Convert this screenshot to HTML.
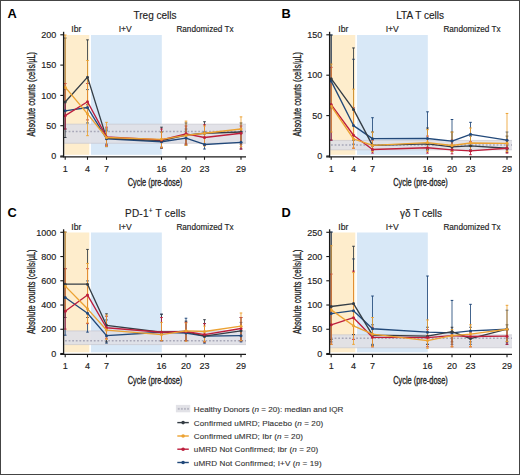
<!DOCTYPE html><html><head><meta charset="utf-8"><style>html,body{margin:0;padding:0;background:#fff;width:520px;height:475px;overflow:hidden}svg{display:block}</style></head><body>
<svg width="520" height="475" viewBox="0 0 520 475" font-family='"Liberation Sans", sans-serif'>
<style>.t{stroke:#222;stroke-width:0.15px}.tl{stroke:#333;stroke-width:0.12px}.ax{stroke:#222;stroke-width:0.32px}</style>
<rect x="0" y="0" width="520" height="475" fill="#fff"/>
<g><rect x="64.3" y="35" width="25" height="119.8" fill="#feedcc"/><rect x="91" y="35" width="70.8" height="119.8" fill="#d8e8f7"/><rect x="64.3" y="124.16" width="181.7" height="19.1" fill="#dfdfe6" fill-opacity="0.92"/><line x1="64.3" x2="246" y1="143.26" y2="143.26" stroke="#c4c4cc" stroke-width="0.8" stroke-opacity="0.8"/><line x1="64.3" x2="246" y1="124.16" y2="124.16" stroke="#c4c4cc" stroke-width="0.8" stroke-opacity="0.8"/><line x1="65" x2="246" y1="131.43" y2="131.43" stroke="#a8a8b8" stroke-width="1.4" stroke-dasharray="1.8 1.8"/><line x1="65.2" x2="65.2" y1="129.01" y2="89.59" stroke="#22497a" stroke-width="0.85"/><line x1="63.9" x2="66.5" y1="129.01" y2="129.01" stroke="#22497a" stroke-width="1"/><line x1="63.9" x2="66.5" y1="89.59" y2="89.59" stroke="#22497a" stroke-width="1"/><line x1="87.5" x2="87.5" y1="122.94" y2="89.59" stroke="#22497a" stroke-width="0.85"/><line x1="86.2" x2="88.8" y1="122.94" y2="122.94" stroke="#22497a" stroke-width="1"/><line x1="86.2" x2="88.8" y1="89.59" y2="89.59" stroke="#22497a" stroke-width="1"/><line x1="106.5" x2="106.5" y1="146.6" y2="130.83" stroke="#22497a" stroke-width="0.85"/><line x1="105.2" x2="107.8" y1="146.6" y2="146.6" stroke="#22497a" stroke-width="1"/><line x1="105.2" x2="107.8" y1="130.83" y2="130.83" stroke="#22497a" stroke-width="1"/><line x1="161.5" x2="161.5" y1="148.42" y2="132.04" stroke="#22497a" stroke-width="0.85"/><line x1="160.2" x2="162.8" y1="148.42" y2="148.42" stroke="#22497a" stroke-width="1"/><line x1="160.2" x2="162.8" y1="132.04" y2="132.04" stroke="#22497a" stroke-width="1"/><line x1="186" x2="186" y1="145.38" y2="129.01" stroke="#22497a" stroke-width="0.85"/><line x1="184.7" x2="187.3" y1="145.38" y2="145.38" stroke="#22497a" stroke-width="1"/><line x1="184.7" x2="187.3" y1="129.01" y2="129.01" stroke="#22497a" stroke-width="1"/><line x1="204.5" x2="204.5" y1="149.02" y2="132.04" stroke="#22497a" stroke-width="0.85"/><line x1="203.2" x2="205.8" y1="149.02" y2="149.02" stroke="#22497a" stroke-width="1"/><line x1="203.2" x2="205.8" y1="132.04" y2="132.04" stroke="#22497a" stroke-width="1"/><line x1="241" x2="241" y1="149.02" y2="132.04" stroke="#22497a" stroke-width="0.85"/><line x1="239.7" x2="242.3" y1="149.02" y2="149.02" stroke="#22497a" stroke-width="1"/><line x1="239.7" x2="242.3" y1="132.04" y2="132.04" stroke="#22497a" stroke-width="1"/><line x1="65.2" x2="65.2" y1="137.5" y2="38.03" stroke="#353d45" stroke-width="0.85"/><line x1="63.9" x2="66.5" y1="137.5" y2="137.5" stroke="#353d45" stroke-width="1"/><line x1="63.9" x2="66.5" y1="38.03" y2="38.03" stroke="#353d45" stroke-width="1"/><line x1="87.5" x2="87.5" y1="104.75" y2="39.85" stroke="#353d45" stroke-width="0.85"/><line x1="86.2" x2="88.8" y1="104.75" y2="104.75" stroke="#353d45" stroke-width="1"/><line x1="86.2" x2="88.8" y1="39.85" y2="39.85" stroke="#353d45" stroke-width="1"/><line x1="106.5" x2="106.5" y1="144.17" y2="129.01" stroke="#353d45" stroke-width="0.85"/><line x1="105.2" x2="107.8" y1="144.17" y2="144.17" stroke="#353d45" stroke-width="1"/><line x1="105.2" x2="107.8" y1="129.01" y2="129.01" stroke="#353d45" stroke-width="1"/><line x1="161.5" x2="161.5" y1="147.2" y2="127.19" stroke="#353d45" stroke-width="0.85"/><line x1="160.2" x2="162.8" y1="147.2" y2="147.2" stroke="#353d45" stroke-width="1"/><line x1="160.2" x2="162.8" y1="127.19" y2="127.19" stroke="#353d45" stroke-width="1"/><line x1="186" x2="186" y1="144.17" y2="122.94" stroke="#353d45" stroke-width="0.85"/><line x1="184.7" x2="187.3" y1="144.17" y2="144.17" stroke="#353d45" stroke-width="1"/><line x1="184.7" x2="187.3" y1="122.94" y2="122.94" stroke="#353d45" stroke-width="1"/><line x1="204.5" x2="204.5" y1="144.17" y2="121.73" stroke="#353d45" stroke-width="0.85"/><line x1="203.2" x2="205.8" y1="144.17" y2="144.17" stroke="#353d45" stroke-width="1"/><line x1="203.2" x2="205.8" y1="121.73" y2="121.73" stroke="#353d45" stroke-width="1"/><line x1="241" x2="241" y1="144.17" y2="122.94" stroke="#353d45" stroke-width="0.85"/><line x1="239.7" x2="242.3" y1="144.17" y2="144.17" stroke="#353d45" stroke-width="1"/><line x1="239.7" x2="242.3" y1="122.94" y2="122.94" stroke="#353d45" stroke-width="1"/><line x1="65.2" x2="65.2" y1="129.01" y2="83.52" stroke="#bd1e3c" stroke-width="0.85"/><line x1="63.9" x2="66.5" y1="129.01" y2="129.01" stroke="#bd1e3c" stroke-width="1"/><line x1="63.9" x2="66.5" y1="83.52" y2="83.52" stroke="#bd1e3c" stroke-width="1"/><line x1="87.5" x2="87.5" y1="119.91" y2="83.52" stroke="#bd1e3c" stroke-width="0.85"/><line x1="86.2" x2="88.8" y1="119.91" y2="119.91" stroke="#bd1e3c" stroke-width="1"/><line x1="86.2" x2="88.8" y1="83.52" y2="83.52" stroke="#bd1e3c" stroke-width="1"/><line x1="106.5" x2="106.5" y1="145.38" y2="127.19" stroke="#bd1e3c" stroke-width="0.85"/><line x1="105.2" x2="107.8" y1="145.38" y2="145.38" stroke="#bd1e3c" stroke-width="1"/><line x1="105.2" x2="107.8" y1="127.19" y2="127.19" stroke="#bd1e3c" stroke-width="1"/><line x1="161.5" x2="161.5" y1="147.81" y2="129.01" stroke="#bd1e3c" stroke-width="0.85"/><line x1="160.2" x2="162.8" y1="147.81" y2="147.81" stroke="#bd1e3c" stroke-width="1"/><line x1="160.2" x2="162.8" y1="129.01" y2="129.01" stroke="#bd1e3c" stroke-width="1"/><line x1="186" x2="186" y1="144.17" y2="125.98" stroke="#bd1e3c" stroke-width="0.85"/><line x1="184.7" x2="187.3" y1="144.17" y2="144.17" stroke="#bd1e3c" stroke-width="1"/><line x1="184.7" x2="187.3" y1="125.98" y2="125.98" stroke="#bd1e3c" stroke-width="1"/><line x1="204.5" x2="204.5" y1="145.38" y2="124.76" stroke="#bd1e3c" stroke-width="0.85"/><line x1="203.2" x2="205.8" y1="145.38" y2="145.38" stroke="#bd1e3c" stroke-width="1"/><line x1="203.2" x2="205.8" y1="124.76" y2="124.76" stroke="#bd1e3c" stroke-width="1"/><line x1="241" x2="241" y1="149.02" y2="125.98" stroke="#bd1e3c" stroke-width="0.85"/><line x1="239.7" x2="242.3" y1="149.02" y2="149.02" stroke="#bd1e3c" stroke-width="1"/><line x1="239.7" x2="242.3" y1="125.98" y2="125.98" stroke="#bd1e3c" stroke-width="1"/><line x1="65.2" x2="65.2" y1="101.72" y2="35" stroke="#eca232" stroke-width="0.85"/><line x1="63.9" x2="66.5" y1="101.72" y2="101.72" stroke="#eca232" stroke-width="1"/><line x1="63.9" x2="66.5" y1="35" y2="35" stroke="#eca232" stroke-width="1"/><line x1="87.5" x2="87.5" y1="135.68" y2="60.47" stroke="#eca232" stroke-width="0.85"/><line x1="86.2" x2="88.8" y1="135.68" y2="135.68" stroke="#eca232" stroke-width="1"/><line x1="86.2" x2="88.8" y1="60.47" y2="60.47" stroke="#eca232" stroke-width="1"/><line x1="106.5" x2="106.5" y1="146.6" y2="122.34" stroke="#eca232" stroke-width="0.85"/><line x1="105.2" x2="107.8" y1="146.6" y2="146.6" stroke="#eca232" stroke-width="1"/><line x1="105.2" x2="107.8" y1="122.34" y2="122.34" stroke="#eca232" stroke-width="1"/><line x1="161.5" x2="161.5" y1="147.81" y2="132.04" stroke="#eca232" stroke-width="0.85"/><line x1="160.2" x2="162.8" y1="147.81" y2="147.81" stroke="#eca232" stroke-width="1"/><line x1="160.2" x2="162.8" y1="132.04" y2="132.04" stroke="#eca232" stroke-width="1"/><line x1="186" x2="186" y1="145.38" y2="121.12" stroke="#eca232" stroke-width="0.85"/><line x1="184.7" x2="187.3" y1="145.38" y2="145.38" stroke="#eca232" stroke-width="1"/><line x1="184.7" x2="187.3" y1="121.12" y2="121.12" stroke="#eca232" stroke-width="1"/><line x1="204.5" x2="204.5" y1="145.99" y2="125.98" stroke="#eca232" stroke-width="0.85"/><line x1="203.2" x2="205.8" y1="145.99" y2="145.99" stroke="#eca232" stroke-width="1"/><line x1="203.2" x2="205.8" y1="125.98" y2="125.98" stroke="#eca232" stroke-width="1"/><line x1="241" x2="241" y1="146.6" y2="116.88" stroke="#eca232" stroke-width="0.85"/><line x1="239.7" x2="242.3" y1="146.6" y2="146.6" stroke="#eca232" stroke-width="1"/><line x1="239.7" x2="242.3" y1="116.88" y2="116.88" stroke="#eca232" stroke-width="1"/><polyline points="65.2,110.81 87.5,107.48 106.5,138.71 161.5,141.74 186,138.11 204.5,144.47 241,142.35" fill="none" stroke="#22497a" stroke-width="1.35" stroke-linejoin="round"/><circle cx="65.2" cy="110.81" r="1.5" fill="#22497a"/><circle cx="87.5" cy="107.48" r="1.5" fill="#22497a"/><circle cx="106.5" cy="138.71" r="1.5" fill="#22497a"/><circle cx="161.5" cy="141.74" r="1.5" fill="#22497a"/><circle cx="186" cy="138.11" r="1.5" fill="#22497a"/><circle cx="204.5" cy="144.47" r="1.5" fill="#22497a"/><circle cx="241" cy="142.35" r="1.5" fill="#22497a"/><polyline points="65.2,102.02 87.5,77.15 106.5,138.11 161.5,140.53 186,135.07 204.5,133.25 241,132.04" fill="none" stroke="#353d45" stroke-width="1.35" stroke-linejoin="round"/><circle cx="65.2" cy="102.02" r="1.5" fill="#353d45"/><circle cx="87.5" cy="77.15" r="1.5" fill="#353d45"/><circle cx="106.5" cy="138.11" r="1.5" fill="#353d45"/><circle cx="161.5" cy="140.53" r="1.5" fill="#353d45"/><circle cx="186" cy="135.07" r="1.5" fill="#353d45"/><circle cx="204.5" cy="133.25" r="1.5" fill="#353d45"/><circle cx="241" cy="132.04" r="1.5" fill="#353d45"/><polyline points="65.2,115.66 87.5,101.72 106.5,136.89 161.5,139.92 186,133.86 204.5,137.5 241,133.25" fill="none" stroke="#bd1e3c" stroke-width="1.35" stroke-linejoin="round"/><circle cx="65.2" cy="115.66" r="1.5" fill="#bd1e3c"/><circle cx="87.5" cy="101.72" r="1.5" fill="#bd1e3c"/><circle cx="106.5" cy="136.89" r="1.5" fill="#bd1e3c"/><circle cx="161.5" cy="139.92" r="1.5" fill="#bd1e3c"/><circle cx="186" cy="133.86" r="1.5" fill="#bd1e3c"/><circle cx="204.5" cy="137.5" r="1.5" fill="#bd1e3c"/><circle cx="241" cy="133.25" r="1.5" fill="#bd1e3c"/><polyline points="65.2,87.16 87.5,113.85 106.5,137.5 161.5,139.32 186,135.38 204.5,133.25 241,129.01" fill="none" stroke="#eca232" stroke-width="1.35" stroke-linejoin="round"/><circle cx="65.2" cy="87.16" r="1.5" fill="#eca232"/><circle cx="87.5" cy="113.85" r="1.5" fill="#eca232"/><circle cx="106.5" cy="137.5" r="1.5" fill="#eca232"/><circle cx="161.5" cy="139.32" r="1.5" fill="#eca232"/><circle cx="186" cy="135.38" r="1.5" fill="#eca232"/><circle cx="204.5" cy="133.25" r="1.5" fill="#eca232"/><circle cx="241" cy="129.01" r="1.5" fill="#eca232"/><line x1="63.6" x2="63.6" y1="31.8" y2="157.4" stroke="#1a1a1a" stroke-width="1.3"/><line x1="60.2" x2="246" y1="156.8" y2="156.8" stroke="#1a1a1a" stroke-width="1.3"/><line x1="60.3" x2="63.6" y1="156" y2="156" stroke="#1a1a1a" stroke-width="1.1"/><text x="56.2" y="159.2" font-size="9" fill="#222" class="t" text-anchor="end">0</text><line x1="60.3" x2="63.6" y1="125.7" y2="125.7" stroke="#1a1a1a" stroke-width="1.1"/><text x="56.2" y="128.9" font-size="9" fill="#222" class="t" text-anchor="end">50</text><line x1="60.3" x2="63.6" y1="95.4" y2="95.4" stroke="#1a1a1a" stroke-width="1.1"/><text x="56.2" y="98.6" font-size="9" fill="#222" class="t" text-anchor="end">100</text><line x1="60.3" x2="63.6" y1="65.1" y2="65.1" stroke="#1a1a1a" stroke-width="1.1"/><text x="56.2" y="68.3" font-size="9" fill="#222" class="t" text-anchor="end">150</text><line x1="60.3" x2="63.6" y1="34.8" y2="34.8" stroke="#1a1a1a" stroke-width="1.1"/><text x="56.2" y="38" font-size="9" fill="#222" class="t" text-anchor="end">200</text><line x1="65.2" x2="65.2" y1="156.8" y2="159.8" stroke="#1a1a1a" stroke-width="1.1"/><text x="65.2" y="171.7" font-size="9" fill="#222" class="t" text-anchor="middle">1</text><line x1="87.5" x2="87.5" y1="156.8" y2="159.8" stroke="#1a1a1a" stroke-width="1.1"/><text x="87.5" y="171.7" font-size="9" fill="#222" class="t" text-anchor="middle">4</text><line x1="106.5" x2="106.5" y1="156.8" y2="159.8" stroke="#1a1a1a" stroke-width="1.1"/><text x="106.5" y="171.7" font-size="9" fill="#222" class="t" text-anchor="middle">7</text><line x1="161.5" x2="161.5" y1="156.8" y2="159.8" stroke="#1a1a1a" stroke-width="1.1"/><text x="161.5" y="171.7" font-size="9" fill="#222" class="t" text-anchor="middle">16</text><line x1="186" x2="186" y1="156.8" y2="159.8" stroke="#1a1a1a" stroke-width="1.1"/><text x="186" y="171.7" font-size="9" fill="#222" class="t" text-anchor="middle">20</text><line x1="204.5" x2="204.5" y1="156.8" y2="159.8" stroke="#1a1a1a" stroke-width="1.1"/><text x="204.5" y="171.7" font-size="9" fill="#222" class="t" text-anchor="middle">23</text><line x1="241" x2="241" y1="156.8" y2="159.8" stroke="#1a1a1a" stroke-width="1.1"/><text x="241" y="171.7" font-size="9" fill="#222" class="t" text-anchor="middle">29</text><text x="155" y="186.4" font-size="10.2" fill="#222" class="ax" text-anchor="middle" textLength="54.6" lengthAdjust="spacingAndGlyphs">Cycle (pre-dose)</text><text transform="translate(34.8,94.3) rotate(-90)" font-size="10.3" fill="#222" class="ax" text-anchor="middle" textLength="84.6" lengthAdjust="spacingAndGlyphs">Absolute counts (cells/µL)</text><text x="76.3" y="32" font-size="8.6" fill="#222" class="t" text-anchor="middle">Ibr</text><text x="125.3" y="32" font-size="8.6" fill="#222" class="t" text-anchor="middle">I+V</text><text x="205" y="32.1" font-size="8.2" fill="#222" class="t" text-anchor="middle">Randomized Tx</text><text x="155" y="18.8" font-size="10" fill="#222" class="t" text-anchor="middle">Treg cells</text><text x="7.6" y="17.9" font-size="12.8" font-weight="bold" fill="#000">A</text></g>
<g><rect x="330.3" y="35" width="25" height="119.8" fill="#feedcc"/><rect x="357" y="35" width="70.8" height="119.8" fill="#d8e8f7"/><rect x="330.3" y="140.45" width="181.7" height="9.38" fill="#dfdfe6" fill-opacity="0.92"/><line x1="330.3" x2="512" y1="149.83" y2="149.83" stroke="#c4c4cc" stroke-width="0.8" stroke-opacity="0.8"/><line x1="330.3" x2="512" y1="140.45" y2="140.45" stroke="#c4c4cc" stroke-width="0.8" stroke-opacity="0.8"/><line x1="331" x2="512" y1="144.98" y2="144.98" stroke="#a8a8b8" stroke-width="1.4" stroke-dasharray="1.8 1.8"/><line x1="331.2" x2="331.2" y1="140.13" y2="35" stroke="#22497a" stroke-width="0.85"/><line x1="329.9" x2="332.5" y1="140.13" y2="140.13" stroke="#22497a" stroke-width="1"/><line x1="329.9" x2="332.5" y1="35" y2="35" stroke="#22497a" stroke-width="1"/><line x1="353.5" x2="353.5" y1="144.17" y2="59.26" stroke="#22497a" stroke-width="0.85"/><line x1="352.2" x2="354.8" y1="144.17" y2="144.17" stroke="#22497a" stroke-width="1"/><line x1="352.2" x2="354.8" y1="59.26" y2="59.26" stroke="#22497a" stroke-width="1"/><line x1="372.5" x2="372.5" y1="149.83" y2="117.73" stroke="#22497a" stroke-width="0.85"/><line x1="371.2" x2="373.8" y1="149.83" y2="149.83" stroke="#22497a" stroke-width="1"/><line x1="371.2" x2="373.8" y1="117.73" y2="117.73" stroke="#22497a" stroke-width="1"/><line x1="427.5" x2="427.5" y1="149.83" y2="111.82" stroke="#22497a" stroke-width="0.85"/><line x1="426.2" x2="428.8" y1="149.83" y2="149.83" stroke="#22497a" stroke-width="1"/><line x1="426.2" x2="428.8" y1="111.82" y2="111.82" stroke="#22497a" stroke-width="1"/><line x1="452" x2="452" y1="149.83" y2="119.51" stroke="#22497a" stroke-width="0.85"/><line x1="450.7" x2="453.3" y1="149.83" y2="149.83" stroke="#22497a" stroke-width="1"/><line x1="450.7" x2="453.3" y1="119.51" y2="119.51" stroke="#22497a" stroke-width="1"/><line x1="470.5" x2="470.5" y1="149.83" y2="122.34" stroke="#22497a" stroke-width="0.85"/><line x1="469.2" x2="471.8" y1="149.83" y2="149.83" stroke="#22497a" stroke-width="1"/><line x1="469.2" x2="471.8" y1="122.34" y2="122.34" stroke="#22497a" stroke-width="1"/><line x1="507" x2="507" y1="149.83" y2="132.04" stroke="#22497a" stroke-width="0.85"/><line x1="505.7" x2="508.3" y1="149.83" y2="149.83" stroke="#22497a" stroke-width="1"/><line x1="505.7" x2="508.3" y1="132.04" y2="132.04" stroke="#22497a" stroke-width="1"/><line x1="331.2" x2="331.2" y1="107.78" y2="35" stroke="#353d45" stroke-width="0.85"/><line x1="329.9" x2="332.5" y1="107.78" y2="107.78" stroke="#353d45" stroke-width="1"/><line x1="329.9" x2="332.5" y1="35" y2="35" stroke="#353d45" stroke-width="1"/><line x1="353.5" x2="353.5" y1="140.13" y2="47.94" stroke="#353d45" stroke-width="0.85"/><line x1="352.2" x2="354.8" y1="140.13" y2="140.13" stroke="#353d45" stroke-width="1"/><line x1="352.2" x2="354.8" y1="47.94" y2="47.94" stroke="#353d45" stroke-width="1"/><line x1="372.5" x2="372.5" y1="149.83" y2="132.04" stroke="#353d45" stroke-width="0.85"/><line x1="371.2" x2="373.8" y1="149.83" y2="149.83" stroke="#353d45" stroke-width="1"/><line x1="371.2" x2="373.8" y1="132.04" y2="132.04" stroke="#353d45" stroke-width="1"/><line x1="427.5" x2="427.5" y1="149.83" y2="128" stroke="#353d45" stroke-width="0.85"/><line x1="426.2" x2="428.8" y1="149.83" y2="149.83" stroke="#353d45" stroke-width="1"/><line x1="426.2" x2="428.8" y1="128" y2="128" stroke="#353d45" stroke-width="1"/><line x1="452" x2="452" y1="151.45" y2="132.04" stroke="#353d45" stroke-width="0.85"/><line x1="450.7" x2="453.3" y1="151.45" y2="151.45" stroke="#353d45" stroke-width="1"/><line x1="450.7" x2="453.3" y1="132.04" y2="132.04" stroke="#353d45" stroke-width="1"/><line x1="470.5" x2="470.5" y1="151.45" y2="136.08" stroke="#353d45" stroke-width="0.85"/><line x1="469.2" x2="471.8" y1="151.45" y2="151.45" stroke="#353d45" stroke-width="1"/><line x1="469.2" x2="471.8" y1="136.08" y2="136.08" stroke="#353d45" stroke-width="1"/><line x1="507" x2="507" y1="152.26" y2="136.08" stroke="#353d45" stroke-width="0.85"/><line x1="505.7" x2="508.3" y1="152.26" y2="152.26" stroke="#353d45" stroke-width="1"/><line x1="505.7" x2="508.3" y1="136.08" y2="136.08" stroke="#353d45" stroke-width="1"/><line x1="331.2" x2="331.2" y1="140.13" y2="67.35" stroke="#bd1e3c" stroke-width="0.85"/><line x1="329.9" x2="332.5" y1="140.13" y2="140.13" stroke="#bd1e3c" stroke-width="1"/><line x1="329.9" x2="332.5" y1="67.35" y2="67.35" stroke="#bd1e3c" stroke-width="1"/><line x1="353.5" x2="353.5" y1="148.21" y2="107.78" stroke="#bd1e3c" stroke-width="0.85"/><line x1="352.2" x2="354.8" y1="148.21" y2="148.21" stroke="#bd1e3c" stroke-width="1"/><line x1="352.2" x2="354.8" y1="107.78" y2="107.78" stroke="#bd1e3c" stroke-width="1"/><line x1="372.5" x2="372.5" y1="153.07" y2="140.13" stroke="#bd1e3c" stroke-width="0.85"/><line x1="371.2" x2="373.8" y1="153.07" y2="153.07" stroke="#bd1e3c" stroke-width="1"/><line x1="371.2" x2="373.8" y1="140.13" y2="140.13" stroke="#bd1e3c" stroke-width="1"/><line x1="427.5" x2="427.5" y1="153.07" y2="136.08" stroke="#bd1e3c" stroke-width="0.85"/><line x1="426.2" x2="428.8" y1="153.07" y2="153.07" stroke="#bd1e3c" stroke-width="1"/><line x1="426.2" x2="428.8" y1="136.08" y2="136.08" stroke="#bd1e3c" stroke-width="1"/><line x1="452" x2="452" y1="153.87" y2="140.13" stroke="#bd1e3c" stroke-width="0.85"/><line x1="450.7" x2="453.3" y1="153.87" y2="153.87" stroke="#bd1e3c" stroke-width="1"/><line x1="450.7" x2="453.3" y1="140.13" y2="140.13" stroke="#bd1e3c" stroke-width="1"/><line x1="470.5" x2="470.5" y1="154.68" y2="141.74" stroke="#bd1e3c" stroke-width="0.85"/><line x1="469.2" x2="471.8" y1="154.68" y2="154.68" stroke="#bd1e3c" stroke-width="1"/><line x1="469.2" x2="471.8" y1="141.74" y2="141.74" stroke="#bd1e3c" stroke-width="1"/><line x1="507" x2="507" y1="153.07" y2="140.13" stroke="#bd1e3c" stroke-width="0.85"/><line x1="505.7" x2="508.3" y1="153.07" y2="153.07" stroke="#bd1e3c" stroke-width="1"/><line x1="505.7" x2="508.3" y1="140.13" y2="140.13" stroke="#bd1e3c" stroke-width="1"/><line x1="331.2" x2="331.2" y1="132.04" y2="64.11" stroke="#eca232" stroke-width="0.85"/><line x1="329.9" x2="332.5" y1="132.04" y2="132.04" stroke="#eca232" stroke-width="1"/><line x1="329.9" x2="332.5" y1="64.11" y2="64.11" stroke="#eca232" stroke-width="1"/><line x1="353.5" x2="353.5" y1="148.21" y2="89.18" stroke="#eca232" stroke-width="0.85"/><line x1="352.2" x2="354.8" y1="148.21" y2="148.21" stroke="#eca232" stroke-width="1"/><line x1="352.2" x2="354.8" y1="89.18" y2="89.18" stroke="#eca232" stroke-width="1"/><line x1="372.5" x2="372.5" y1="151.45" y2="132.04" stroke="#eca232" stroke-width="0.85"/><line x1="371.2" x2="373.8" y1="151.45" y2="151.45" stroke="#eca232" stroke-width="1"/><line x1="371.2" x2="373.8" y1="132.04" y2="132.04" stroke="#eca232" stroke-width="1"/><line x1="427.5" x2="427.5" y1="151.45" y2="129.61" stroke="#eca232" stroke-width="0.85"/><line x1="426.2" x2="428.8" y1="151.45" y2="151.45" stroke="#eca232" stroke-width="1"/><line x1="426.2" x2="428.8" y1="129.61" y2="129.61" stroke="#eca232" stroke-width="1"/><line x1="452" x2="452" y1="151.45" y2="132.04" stroke="#eca232" stroke-width="0.85"/><line x1="450.7" x2="453.3" y1="151.45" y2="151.45" stroke="#eca232" stroke-width="1"/><line x1="450.7" x2="453.3" y1="132.04" y2="132.04" stroke="#eca232" stroke-width="1"/><line x1="470.5" x2="470.5" y1="151.45" y2="128" stroke="#eca232" stroke-width="0.85"/><line x1="469.2" x2="471.8" y1="151.45" y2="151.45" stroke="#eca232" stroke-width="1"/><line x1="469.2" x2="471.8" y1="128" y2="128" stroke="#eca232" stroke-width="1"/><line x1="507" x2="507" y1="151.45" y2="113.44" stroke="#eca232" stroke-width="0.85"/><line x1="505.7" x2="508.3" y1="151.45" y2="151.45" stroke="#eca232" stroke-width="1"/><line x1="505.7" x2="508.3" y1="113.44" y2="113.44" stroke="#eca232" stroke-width="1"/><polyline points="331.2,81.09 353.5,125.57 372.5,138.67 427.5,138.51 452,141.1 470.5,134.3 507,140.13" fill="none" stroke="#22497a" stroke-width="1.35" stroke-linejoin="round"/><circle cx="331.2" cy="81.09" r="1.5" fill="#22497a"/><circle cx="353.5" cy="125.57" r="1.5" fill="#22497a"/><circle cx="372.5" cy="138.67" r="1.5" fill="#22497a"/><circle cx="427.5" cy="138.51" r="1.5" fill="#22497a"/><circle cx="452" cy="141.1" r="1.5" fill="#22497a"/><circle cx="470.5" cy="134.3" r="1.5" fill="#22497a"/><circle cx="507" cy="140.13" r="1.5" fill="#22497a"/><polyline points="331.2,78.67 353.5,109.4 372.5,145.38 427.5,143.85 452,146.92 470.5,145.87 507,148.21" fill="none" stroke="#353d45" stroke-width="1.35" stroke-linejoin="round"/><circle cx="331.2" cy="78.67" r="1.5" fill="#353d45"/><circle cx="353.5" cy="109.4" r="1.5" fill="#353d45"/><circle cx="372.5" cy="145.38" r="1.5" fill="#353d45"/><circle cx="427.5" cy="143.85" r="1.5" fill="#353d45"/><circle cx="452" cy="146.92" r="1.5" fill="#353d45"/><circle cx="470.5" cy="145.87" r="1.5" fill="#353d45"/><circle cx="507" cy="148.21" r="1.5" fill="#353d45"/><polyline points="331.2,104.55 353.5,135.27 372.5,149.51 427.5,147.73 452,149.83 470.5,150.8 507,148.21" fill="none" stroke="#bd1e3c" stroke-width="1.35" stroke-linejoin="round"/><circle cx="331.2" cy="104.55" r="1.5" fill="#bd1e3c"/><circle cx="353.5" cy="135.27" r="1.5" fill="#bd1e3c"/><circle cx="372.5" cy="149.51" r="1.5" fill="#bd1e3c"/><circle cx="427.5" cy="147.73" r="1.5" fill="#bd1e3c"/><circle cx="452" cy="149.83" r="1.5" fill="#bd1e3c"/><circle cx="470.5" cy="150.8" r="1.5" fill="#bd1e3c"/><circle cx="507" cy="148.21" r="1.5" fill="#bd1e3c"/><polyline points="331.2,106.16 353.5,138.91 372.5,145.38 427.5,142.55 452,145.46 470.5,142.96 507,143.36" fill="none" stroke="#eca232" stroke-width="1.35" stroke-linejoin="round"/><circle cx="331.2" cy="106.16" r="1.5" fill="#eca232"/><circle cx="353.5" cy="138.91" r="1.5" fill="#eca232"/><circle cx="372.5" cy="145.38" r="1.5" fill="#eca232"/><circle cx="427.5" cy="142.55" r="1.5" fill="#eca232"/><circle cx="452" cy="145.46" r="1.5" fill="#eca232"/><circle cx="470.5" cy="142.96" r="1.5" fill="#eca232"/><circle cx="507" cy="143.36" r="1.5" fill="#eca232"/><line x1="329.6" x2="329.6" y1="31.8" y2="157.4" stroke="#1a1a1a" stroke-width="1.3"/><line x1="326.2" x2="512" y1="156.8" y2="156.8" stroke="#1a1a1a" stroke-width="1.3"/><line x1="326.3" x2="329.6" y1="156" y2="156" stroke="#1a1a1a" stroke-width="1.1"/><text x="322.2" y="159.2" font-size="9" fill="#222" class="t" text-anchor="end">0</text><line x1="326.3" x2="329.6" y1="115.6" y2="115.6" stroke="#1a1a1a" stroke-width="1.1"/><text x="322.2" y="118.8" font-size="9" fill="#222" class="t" text-anchor="end">50</text><line x1="326.3" x2="329.6" y1="75.2" y2="75.2" stroke="#1a1a1a" stroke-width="1.1"/><text x="322.2" y="78.4" font-size="9" fill="#222" class="t" text-anchor="end">100</text><line x1="326.3" x2="329.6" y1="34.8" y2="34.8" stroke="#1a1a1a" stroke-width="1.1"/><text x="322.2" y="38" font-size="9" fill="#222" class="t" text-anchor="end">150</text><line x1="331.2" x2="331.2" y1="156.8" y2="159.8" stroke="#1a1a1a" stroke-width="1.1"/><text x="331.2" y="171.7" font-size="9" fill="#222" class="t" text-anchor="middle">1</text><line x1="353.5" x2="353.5" y1="156.8" y2="159.8" stroke="#1a1a1a" stroke-width="1.1"/><text x="353.5" y="171.7" font-size="9" fill="#222" class="t" text-anchor="middle">4</text><line x1="372.5" x2="372.5" y1="156.8" y2="159.8" stroke="#1a1a1a" stroke-width="1.1"/><text x="372.5" y="171.7" font-size="9" fill="#222" class="t" text-anchor="middle">7</text><line x1="427.5" x2="427.5" y1="156.8" y2="159.8" stroke="#1a1a1a" stroke-width="1.1"/><text x="427.5" y="171.7" font-size="9" fill="#222" class="t" text-anchor="middle">16</text><line x1="452" x2="452" y1="156.8" y2="159.8" stroke="#1a1a1a" stroke-width="1.1"/><text x="452" y="171.7" font-size="9" fill="#222" class="t" text-anchor="middle">20</text><line x1="470.5" x2="470.5" y1="156.8" y2="159.8" stroke="#1a1a1a" stroke-width="1.1"/><text x="470.5" y="171.7" font-size="9" fill="#222" class="t" text-anchor="middle">23</text><line x1="507" x2="507" y1="156.8" y2="159.8" stroke="#1a1a1a" stroke-width="1.1"/><text x="507" y="171.7" font-size="9" fill="#222" class="t" text-anchor="middle">29</text><text x="420.5" y="186.4" font-size="10.2" fill="#222" class="ax" text-anchor="middle" textLength="54.6" lengthAdjust="spacingAndGlyphs">Cycle (pre-dose)</text><text transform="translate(300.8,94.3) rotate(-90)" font-size="10.3" fill="#222" class="ax" text-anchor="middle" textLength="84.6" lengthAdjust="spacingAndGlyphs">Absolute counts (cells/µL)</text><text x="343.3" y="32" font-size="8.6" fill="#222" class="t" text-anchor="middle">Ibr</text><text x="392.3" y="32" font-size="8.6" fill="#222" class="t" text-anchor="middle">I+V</text><text x="472" y="32.1" font-size="8.2" fill="#222" class="t" text-anchor="middle">Randomized Tx</text><text x="420.1" y="18.8" font-size="10" fill="#222" class="t" text-anchor="middle">LTA T cells</text><text x="281.6" y="17.9" font-size="12.8" font-weight="bold" fill="#000">B</text></g>
<g><rect x="64.3" y="232.5" width="25" height="119.8" fill="#feedcc"/><rect x="91" y="232.5" width="70.8" height="119.8" fill="#d8e8f7"/><rect x="64.3" y="330.92" width="181.7" height="13.66" fill="#dfdfe6" fill-opacity="0.92"/><line x1="64.3" x2="246" y1="344.58" y2="344.58" stroke="#c4c4cc" stroke-width="0.8" stroke-opacity="0.8"/><line x1="64.3" x2="246" y1="330.92" y2="330.92" stroke="#c4c4cc" stroke-width="0.8" stroke-opacity="0.8"/><line x1="65" x2="246" y1="340.8" y2="340.8" stroke="#a8a8b8" stroke-width="1.4" stroke-dasharray="1.8 1.8"/><line x1="65.2" x2="65.2" y1="335.19" y2="268.7" stroke="#22497a" stroke-width="0.85"/><line x1="63.9" x2="66.5" y1="335.19" y2="335.19" stroke="#22497a" stroke-width="1"/><line x1="63.9" x2="66.5" y1="268.7" y2="268.7" stroke="#22497a" stroke-width="1"/><line x1="87.5" x2="87.5" y1="332.14" y2="280.9" stroke="#22497a" stroke-width="0.85"/><line x1="86.2" x2="88.8" y1="332.14" y2="332.14" stroke="#22497a" stroke-width="1"/><line x1="86.2" x2="88.8" y1="280.9" y2="280.9" stroke="#22497a" stroke-width="1"/><line x1="106.5" x2="106.5" y1="343.12" y2="319.94" stroke="#22497a" stroke-width="0.85"/><line x1="105.2" x2="107.8" y1="343.12" y2="343.12" stroke="#22497a" stroke-width="1"/><line x1="105.2" x2="107.8" y1="319.94" y2="319.94" stroke="#22497a" stroke-width="1"/><line x1="161.5" x2="161.5" y1="340.68" y2="314.21" stroke="#22497a" stroke-width="0.85"/><line x1="160.2" x2="162.8" y1="340.68" y2="340.68" stroke="#22497a" stroke-width="1"/><line x1="160.2" x2="162.8" y1="314.21" y2="314.21" stroke="#22497a" stroke-width="1"/><line x1="186" x2="186" y1="340.68" y2="318.23" stroke="#22497a" stroke-width="0.85"/><line x1="184.7" x2="187.3" y1="340.68" y2="340.68" stroke="#22497a" stroke-width="1"/><line x1="184.7" x2="187.3" y1="318.23" y2="318.23" stroke="#22497a" stroke-width="1"/><line x1="204.5" x2="204.5" y1="343.12" y2="323.6" stroke="#22497a" stroke-width="0.85"/><line x1="203.2" x2="205.8" y1="343.12" y2="343.12" stroke="#22497a" stroke-width="1"/><line x1="203.2" x2="205.8" y1="323.6" y2="323.6" stroke="#22497a" stroke-width="1"/><line x1="241" x2="241" y1="341.9" y2="322.38" stroke="#22497a" stroke-width="0.85"/><line x1="239.7" x2="242.3" y1="341.9" y2="341.9" stroke="#22497a" stroke-width="1"/><line x1="239.7" x2="242.3" y1="322.38" y2="322.38" stroke="#22497a" stroke-width="1"/><line x1="65.2" x2="65.2" y1="317.5" y2="232.1" stroke="#353d45" stroke-width="0.85"/><line x1="63.9" x2="66.5" y1="317.5" y2="317.5" stroke="#353d45" stroke-width="1"/><line x1="63.9" x2="66.5" y1="232.1" y2="232.1" stroke="#353d45" stroke-width="1"/><line x1="87.5" x2="87.5" y1="317.5" y2="249.42" stroke="#353d45" stroke-width="0.85"/><line x1="86.2" x2="88.8" y1="317.5" y2="317.5" stroke="#353d45" stroke-width="1"/><line x1="86.2" x2="88.8" y1="249.42" y2="249.42" stroke="#353d45" stroke-width="1"/><line x1="106.5" x2="106.5" y1="341.9" y2="313.84" stroke="#353d45" stroke-width="0.85"/><line x1="105.2" x2="107.8" y1="341.9" y2="341.9" stroke="#353d45" stroke-width="1"/><line x1="105.2" x2="107.8" y1="313.84" y2="313.84" stroke="#353d45" stroke-width="1"/><line x1="161.5" x2="161.5" y1="340.68" y2="314.21" stroke="#353d45" stroke-width="0.85"/><line x1="160.2" x2="162.8" y1="340.68" y2="340.68" stroke="#353d45" stroke-width="1"/><line x1="160.2" x2="162.8" y1="314.21" y2="314.21" stroke="#353d45" stroke-width="1"/><line x1="186" x2="186" y1="340.68" y2="321.16" stroke="#353d45" stroke-width="0.85"/><line x1="184.7" x2="187.3" y1="340.68" y2="340.68" stroke="#353d45" stroke-width="1"/><line x1="184.7" x2="187.3" y1="321.16" y2="321.16" stroke="#353d45" stroke-width="1"/><line x1="204.5" x2="204.5" y1="341.9" y2="319.7" stroke="#353d45" stroke-width="0.85"/><line x1="203.2" x2="205.8" y1="341.9" y2="341.9" stroke="#353d45" stroke-width="1"/><line x1="203.2" x2="205.8" y1="319.7" y2="319.7" stroke="#353d45" stroke-width="1"/><line x1="241" x2="241" y1="340.68" y2="317.5" stroke="#353d45" stroke-width="0.85"/><line x1="239.7" x2="242.3" y1="340.68" y2="340.68" stroke="#353d45" stroke-width="1"/><line x1="239.7" x2="242.3" y1="317.5" y2="317.5" stroke="#353d45" stroke-width="1"/><line x1="65.2" x2="65.2" y1="329.09" y2="268.7" stroke="#bd1e3c" stroke-width="0.85"/><line x1="63.9" x2="66.5" y1="329.09" y2="329.09" stroke="#bd1e3c" stroke-width="1"/><line x1="63.9" x2="66.5" y1="268.7" y2="268.7" stroke="#bd1e3c" stroke-width="1"/><line x1="87.5" x2="87.5" y1="323.6" y2="268.7" stroke="#bd1e3c" stroke-width="0.85"/><line x1="86.2" x2="88.8" y1="323.6" y2="323.6" stroke="#bd1e3c" stroke-width="1"/><line x1="86.2" x2="88.8" y1="268.7" y2="268.7" stroke="#bd1e3c" stroke-width="1"/><line x1="106.5" x2="106.5" y1="338.24" y2="316.28" stroke="#bd1e3c" stroke-width="0.85"/><line x1="105.2" x2="107.8" y1="338.24" y2="338.24" stroke="#bd1e3c" stroke-width="1"/><line x1="105.2" x2="107.8" y1="316.28" y2="316.28" stroke="#bd1e3c" stroke-width="1"/><line x1="161.5" x2="161.5" y1="340.68" y2="317.5" stroke="#bd1e3c" stroke-width="0.85"/><line x1="160.2" x2="162.8" y1="340.68" y2="340.68" stroke="#bd1e3c" stroke-width="1"/><line x1="160.2" x2="162.8" y1="317.5" y2="317.5" stroke="#bd1e3c" stroke-width="1"/><line x1="186" x2="186" y1="340.68" y2="322.38" stroke="#bd1e3c" stroke-width="0.85"/><line x1="184.7" x2="187.3" y1="340.68" y2="340.68" stroke="#bd1e3c" stroke-width="1"/><line x1="184.7" x2="187.3" y1="322.38" y2="322.38" stroke="#bd1e3c" stroke-width="1"/><line x1="204.5" x2="204.5" y1="341.9" y2="323.6" stroke="#bd1e3c" stroke-width="0.85"/><line x1="203.2" x2="205.8" y1="341.9" y2="341.9" stroke="#bd1e3c" stroke-width="1"/><line x1="203.2" x2="205.8" y1="323.6" y2="323.6" stroke="#bd1e3c" stroke-width="1"/><line x1="241" x2="241" y1="340.68" y2="317.5" stroke="#bd1e3c" stroke-width="0.85"/><line x1="239.7" x2="242.3" y1="340.68" y2="340.68" stroke="#bd1e3c" stroke-width="1"/><line x1="239.7" x2="242.3" y1="317.5" y2="317.5" stroke="#bd1e3c" stroke-width="1"/><line x1="65.2" x2="65.2" y1="311.4" y2="232.1" stroke="#eca232" stroke-width="0.85"/><line x1="63.9" x2="66.5" y1="311.4" y2="311.4" stroke="#eca232" stroke-width="1"/><line x1="63.9" x2="66.5" y1="232.1" y2="232.1" stroke="#eca232" stroke-width="1"/><line x1="87.5" x2="87.5" y1="322.99" y2="263.45" stroke="#eca232" stroke-width="0.85"/><line x1="86.2" x2="88.8" y1="322.99" y2="322.99" stroke="#eca232" stroke-width="1"/><line x1="86.2" x2="88.8" y1="263.45" y2="263.45" stroke="#eca232" stroke-width="1"/><line x1="106.5" x2="106.5" y1="339.46" y2="315.06" stroke="#eca232" stroke-width="0.85"/><line x1="105.2" x2="107.8" y1="339.46" y2="339.46" stroke="#eca232" stroke-width="1"/><line x1="105.2" x2="107.8" y1="315.06" y2="315.06" stroke="#eca232" stroke-width="1"/><line x1="161.5" x2="161.5" y1="340.68" y2="322.38" stroke="#eca232" stroke-width="0.85"/><line x1="160.2" x2="162.8" y1="340.68" y2="340.68" stroke="#eca232" stroke-width="1"/><line x1="160.2" x2="162.8" y1="322.38" y2="322.38" stroke="#eca232" stroke-width="1"/><line x1="186" x2="186" y1="341.17" y2="322.99" stroke="#eca232" stroke-width="0.85"/><line x1="184.7" x2="187.3" y1="341.17" y2="341.17" stroke="#eca232" stroke-width="1"/><line x1="184.7" x2="187.3" y1="322.99" y2="322.99" stroke="#eca232" stroke-width="1"/><line x1="204.5" x2="204.5" y1="341.78" y2="326.04" stroke="#eca232" stroke-width="0.85"/><line x1="203.2" x2="205.8" y1="341.78" y2="341.78" stroke="#eca232" stroke-width="1"/><line x1="203.2" x2="205.8" y1="326.04" y2="326.04" stroke="#eca232" stroke-width="1"/><line x1="241" x2="241" y1="340.68" y2="312.99" stroke="#eca232" stroke-width="0.85"/><line x1="239.7" x2="242.3" y1="340.68" y2="340.68" stroke="#eca232" stroke-width="1"/><line x1="239.7" x2="242.3" y1="312.99" y2="312.99" stroke="#eca232" stroke-width="1"/><polyline points="65.2,297.49 87.5,313.23 106.5,335.68 161.5,332.26 186,332.99 204.5,336.17 241,335.68" fill="none" stroke="#22497a" stroke-width="1.35" stroke-linejoin="round"/><circle cx="65.2" cy="297.49" r="1.5" fill="#22497a"/><circle cx="87.5" cy="313.23" r="1.5" fill="#22497a"/><circle cx="106.5" cy="335.68" r="1.5" fill="#22497a"/><circle cx="161.5" cy="332.26" r="1.5" fill="#22497a"/><circle cx="186" cy="332.99" r="1.5" fill="#22497a"/><circle cx="204.5" cy="336.17" r="1.5" fill="#22497a"/><circle cx="241" cy="335.68" r="1.5" fill="#22497a"/><polyline points="65.2,284.19 87.5,284.19 106.5,325.31 161.5,332.26 186,331.53 204.5,336.17 241,330.8" fill="none" stroke="#353d45" stroke-width="1.35" stroke-linejoin="round"/><circle cx="65.2" cy="284.19" r="1.5" fill="#353d45"/><circle cx="87.5" cy="284.19" r="1.5" fill="#353d45"/><circle cx="106.5" cy="325.31" r="1.5" fill="#353d45"/><circle cx="161.5" cy="332.26" r="1.5" fill="#353d45"/><circle cx="186" cy="331.53" r="1.5" fill="#353d45"/><circle cx="204.5" cy="336.17" r="1.5" fill="#353d45"/><circle cx="241" cy="330.8" r="1.5" fill="#353d45"/><polyline points="65.2,311.28 87.5,295.05 106.5,327.75 161.5,332.26 186,331.53 204.5,334.58 241,328.48" fill="none" stroke="#bd1e3c" stroke-width="1.35" stroke-linejoin="round"/><circle cx="65.2" cy="311.28" r="1.5" fill="#bd1e3c"/><circle cx="87.5" cy="295.05" r="1.5" fill="#bd1e3c"/><circle cx="106.5" cy="327.75" r="1.5" fill="#bd1e3c"/><circle cx="161.5" cy="332.26" r="1.5" fill="#bd1e3c"/><circle cx="186" cy="331.53" r="1.5" fill="#bd1e3c"/><circle cx="204.5" cy="334.58" r="1.5" fill="#bd1e3c"/><circle cx="241" cy="328.48" r="1.5" fill="#bd1e3c"/><polyline points="65.2,286.15 87.5,308.84 106.5,330.07 161.5,334.58 186,330.8 204.5,331.53 241,326.16" fill="none" stroke="#eca232" stroke-width="1.35" stroke-linejoin="round"/><circle cx="65.2" cy="286.15" r="1.5" fill="#eca232"/><circle cx="87.5" cy="308.84" r="1.5" fill="#eca232"/><circle cx="106.5" cy="330.07" r="1.5" fill="#eca232"/><circle cx="161.5" cy="334.58" r="1.5" fill="#eca232"/><circle cx="186" cy="330.8" r="1.5" fill="#eca232"/><circle cx="204.5" cy="331.53" r="1.5" fill="#eca232"/><circle cx="241" cy="326.16" r="1.5" fill="#eca232"/><line x1="63.6" x2="63.6" y1="229.3" y2="354.9" stroke="#1a1a1a" stroke-width="1.3"/><line x1="60.2" x2="246" y1="354.3" y2="354.3" stroke="#1a1a1a" stroke-width="1.3"/><line x1="60.3" x2="63.6" y1="353.5" y2="353.5" stroke="#1a1a1a" stroke-width="1.1"/><text x="56.2" y="356.7" font-size="9" fill="#222" class="t" text-anchor="end">0</text><line x1="60.3" x2="63.6" y1="329.26" y2="329.26" stroke="#1a1a1a" stroke-width="1.1"/><text x="56.2" y="332.46" font-size="9" fill="#222" class="t" text-anchor="end">200</text><line x1="60.3" x2="63.6" y1="305.02" y2="305.02" stroke="#1a1a1a" stroke-width="1.1"/><text x="56.2" y="308.22" font-size="9" fill="#222" class="t" text-anchor="end">400</text><line x1="60.3" x2="63.6" y1="280.78" y2="280.78" stroke="#1a1a1a" stroke-width="1.1"/><text x="56.2" y="283.98" font-size="9" fill="#222" class="t" text-anchor="end">600</text><line x1="60.3" x2="63.6" y1="256.54" y2="256.54" stroke="#1a1a1a" stroke-width="1.1"/><text x="56.2" y="259.74" font-size="9" fill="#222" class="t" text-anchor="end">800</text><line x1="60.3" x2="63.6" y1="232.3" y2="232.3" stroke="#1a1a1a" stroke-width="1.1"/><text x="56.2" y="235.5" font-size="9" fill="#222" class="t" text-anchor="end">1000</text><line x1="65.2" x2="65.2" y1="354.3" y2="357.3" stroke="#1a1a1a" stroke-width="1.1"/><text x="65.2" y="369.2" font-size="9" fill="#222" class="t" text-anchor="middle">1</text><line x1="87.5" x2="87.5" y1="354.3" y2="357.3" stroke="#1a1a1a" stroke-width="1.1"/><text x="87.5" y="369.2" font-size="9" fill="#222" class="t" text-anchor="middle">4</text><line x1="106.5" x2="106.5" y1="354.3" y2="357.3" stroke="#1a1a1a" stroke-width="1.1"/><text x="106.5" y="369.2" font-size="9" fill="#222" class="t" text-anchor="middle">7</text><line x1="161.5" x2="161.5" y1="354.3" y2="357.3" stroke="#1a1a1a" stroke-width="1.1"/><text x="161.5" y="369.2" font-size="9" fill="#222" class="t" text-anchor="middle">16</text><line x1="186" x2="186" y1="354.3" y2="357.3" stroke="#1a1a1a" stroke-width="1.1"/><text x="186" y="369.2" font-size="9" fill="#222" class="t" text-anchor="middle">20</text><line x1="204.5" x2="204.5" y1="354.3" y2="357.3" stroke="#1a1a1a" stroke-width="1.1"/><text x="204.5" y="369.2" font-size="9" fill="#222" class="t" text-anchor="middle">23</text><line x1="241" x2="241" y1="354.3" y2="357.3" stroke="#1a1a1a" stroke-width="1.1"/><text x="241" y="369.2" font-size="9" fill="#222" class="t" text-anchor="middle">29</text><text x="155" y="383.9" font-size="10.2" fill="#222" class="ax" text-anchor="middle" textLength="54.6" lengthAdjust="spacingAndGlyphs">Cycle (pre-dose)</text><text transform="translate(34.8,291.8) rotate(-90)" font-size="10.3" fill="#222" class="ax" text-anchor="middle" textLength="84.6" lengthAdjust="spacingAndGlyphs">Absolute counts (cells/µL)</text><text x="76.3" y="229.5" font-size="8.6" fill="#222" class="t" text-anchor="middle">Ibr</text><text x="125.3" y="229.5" font-size="8.6" fill="#222" class="t" text-anchor="middle">I+V</text><text x="205" y="229.6" font-size="8.2" fill="#222" class="t" text-anchor="middle">Randomized Tx</text><text x="125" y="216.8" font-size="10" fill="#222" class="t" letter-spacing="0.22">PD-1<tspan font-size="6.5" dy="-4">+</tspan><tspan dy="4"> T cells</tspan></text><text x="7.6" y="216.6" font-size="12.8" font-weight="bold" fill="#000">C</text></g>
<g><rect x="330.3" y="232.5" width="25" height="119.8" fill="#feedcc"/><rect x="357" y="232.5" width="70.8" height="119.8" fill="#d8e8f7"/><rect x="330.3" y="334.82" width="181.7" height="12.93" fill="#dfdfe6" fill-opacity="0.92"/><line x1="330.3" x2="512" y1="347.76" y2="347.76" stroke="#c4c4cc" stroke-width="0.8" stroke-opacity="0.8"/><line x1="330.3" x2="512" y1="334.82" y2="334.82" stroke="#c4c4cc" stroke-width="0.8" stroke-opacity="0.8"/><line x1="331" x2="512" y1="338.19" y2="338.19" stroke="#a8a8b8" stroke-width="1.4" stroke-dasharray="1.8 1.8"/><line x1="331.2" x2="331.2" y1="341.9" y2="232.1" stroke="#22497a" stroke-width="0.85"/><line x1="329.9" x2="332.5" y1="341.9" y2="341.9" stroke="#22497a" stroke-width="1"/><line x1="329.9" x2="332.5" y1="232.1" y2="232.1" stroke="#22497a" stroke-width="1"/><line x1="353.5" x2="353.5" y1="334.58" y2="258.94" stroke="#22497a" stroke-width="0.85"/><line x1="352.2" x2="354.8" y1="334.58" y2="334.58" stroke="#22497a" stroke-width="1"/><line x1="352.2" x2="354.8" y1="258.94" y2="258.94" stroke="#22497a" stroke-width="1"/><line x1="372.5" x2="372.5" y1="344.34" y2="296.03" stroke="#22497a" stroke-width="0.85"/><line x1="371.2" x2="373.8" y1="344.34" y2="344.34" stroke="#22497a" stroke-width="1"/><line x1="371.2" x2="373.8" y1="296.03" y2="296.03" stroke="#22497a" stroke-width="1"/><line x1="427.5" x2="427.5" y1="344.34" y2="276.02" stroke="#22497a" stroke-width="0.85"/><line x1="426.2" x2="428.8" y1="344.34" y2="344.34" stroke="#22497a" stroke-width="1"/><line x1="426.2" x2="428.8" y1="276.02" y2="276.02" stroke="#22497a" stroke-width="1"/><line x1="452" x2="452" y1="344.34" y2="300.42" stroke="#22497a" stroke-width="0.85"/><line x1="450.7" x2="453.3" y1="344.34" y2="344.34" stroke="#22497a" stroke-width="1"/><line x1="450.7" x2="453.3" y1="300.42" y2="300.42" stroke="#22497a" stroke-width="1"/><line x1="470.5" x2="470.5" y1="344.34" y2="304.32" stroke="#22497a" stroke-width="0.85"/><line x1="469.2" x2="471.8" y1="344.34" y2="344.34" stroke="#22497a" stroke-width="1"/><line x1="469.2" x2="471.8" y1="304.32" y2="304.32" stroke="#22497a" stroke-width="1"/><line x1="507" x2="507" y1="344.34" y2="310.18" stroke="#22497a" stroke-width="0.85"/><line x1="505.7" x2="508.3" y1="344.34" y2="344.34" stroke="#22497a" stroke-width="1"/><line x1="505.7" x2="508.3" y1="310.18" y2="310.18" stroke="#22497a" stroke-width="1"/><line x1="331.2" x2="331.2" y1="339.46" y2="232.1" stroke="#353d45" stroke-width="0.85"/><line x1="329.9" x2="332.5" y1="339.46" y2="339.46" stroke="#353d45" stroke-width="1"/><line x1="329.9" x2="332.5" y1="232.1" y2="232.1" stroke="#353d45" stroke-width="1"/><line x1="353.5" x2="353.5" y1="334.58" y2="246.25" stroke="#353d45" stroke-width="0.85"/><line x1="352.2" x2="354.8" y1="334.58" y2="334.58" stroke="#353d45" stroke-width="1"/><line x1="352.2" x2="354.8" y1="246.25" y2="246.25" stroke="#353d45" stroke-width="1"/><line x1="372.5" x2="372.5" y1="345.32" y2="324.82" stroke="#353d45" stroke-width="0.85"/><line x1="371.2" x2="373.8" y1="345.32" y2="345.32" stroke="#353d45" stroke-width="1"/><line x1="371.2" x2="373.8" y1="324.82" y2="324.82" stroke="#353d45" stroke-width="1"/><line x1="427.5" x2="427.5" y1="344.34" y2="327.26" stroke="#353d45" stroke-width="0.85"/><line x1="426.2" x2="428.8" y1="344.34" y2="344.34" stroke="#353d45" stroke-width="1"/><line x1="426.2" x2="428.8" y1="327.26" y2="327.26" stroke="#353d45" stroke-width="1"/><line x1="452" x2="452" y1="341.9" y2="327.26" stroke="#353d45" stroke-width="0.85"/><line x1="450.7" x2="453.3" y1="341.9" y2="341.9" stroke="#353d45" stroke-width="1"/><line x1="450.7" x2="453.3" y1="327.26" y2="327.26" stroke="#353d45" stroke-width="1"/><line x1="470.5" x2="470.5" y1="341.9" y2="327.26" stroke="#353d45" stroke-width="0.85"/><line x1="469.2" x2="471.8" y1="341.9" y2="341.9" stroke="#353d45" stroke-width="1"/><line x1="469.2" x2="471.8" y1="327.26" y2="327.26" stroke="#353d45" stroke-width="1"/><line x1="507" x2="507" y1="341.9" y2="324.82" stroke="#353d45" stroke-width="0.85"/><line x1="505.7" x2="508.3" y1="341.9" y2="341.9" stroke="#353d45" stroke-width="1"/><line x1="505.7" x2="508.3" y1="324.82" y2="324.82" stroke="#353d45" stroke-width="1"/><line x1="331.2" x2="331.2" y1="344.34" y2="274.07" stroke="#bd1e3c" stroke-width="0.85"/><line x1="329.9" x2="332.5" y1="344.34" y2="344.34" stroke="#bd1e3c" stroke-width="1"/><line x1="329.9" x2="332.5" y1="274.07" y2="274.07" stroke="#bd1e3c" stroke-width="1"/><line x1="353.5" x2="353.5" y1="339.46" y2="271.14" stroke="#bd1e3c" stroke-width="0.85"/><line x1="352.2" x2="354.8" y1="339.46" y2="339.46" stroke="#bd1e3c" stroke-width="1"/><line x1="352.2" x2="354.8" y1="271.14" y2="271.14" stroke="#bd1e3c" stroke-width="1"/><line x1="372.5" x2="372.5" y1="346.78" y2="327.26" stroke="#bd1e3c" stroke-width="0.85"/><line x1="371.2" x2="373.8" y1="346.78" y2="346.78" stroke="#bd1e3c" stroke-width="1"/><line x1="371.2" x2="373.8" y1="327.26" y2="327.26" stroke="#bd1e3c" stroke-width="1"/><line x1="427.5" x2="427.5" y1="346.78" y2="329.7" stroke="#bd1e3c" stroke-width="0.85"/><line x1="426.2" x2="428.8" y1="346.78" y2="346.78" stroke="#bd1e3c" stroke-width="1"/><line x1="426.2" x2="428.8" y1="329.7" y2="329.7" stroke="#bd1e3c" stroke-width="1"/><line x1="452" x2="452" y1="346.78" y2="332.14" stroke="#bd1e3c" stroke-width="0.85"/><line x1="450.7" x2="453.3" y1="346.78" y2="346.78" stroke="#bd1e3c" stroke-width="1"/><line x1="450.7" x2="453.3" y1="332.14" y2="332.14" stroke="#bd1e3c" stroke-width="1"/><line x1="470.5" x2="470.5" y1="346.78" y2="332.14" stroke="#bd1e3c" stroke-width="0.85"/><line x1="469.2" x2="471.8" y1="346.78" y2="346.78" stroke="#bd1e3c" stroke-width="1"/><line x1="469.2" x2="471.8" y1="332.14" y2="332.14" stroke="#bd1e3c" stroke-width="1"/><line x1="507" x2="507" y1="344.34" y2="329.7" stroke="#bd1e3c" stroke-width="0.85"/><line x1="505.7" x2="508.3" y1="344.34" y2="344.34" stroke="#bd1e3c" stroke-width="1"/><line x1="505.7" x2="508.3" y1="329.7" y2="329.7" stroke="#bd1e3c" stroke-width="1"/><line x1="331.2" x2="331.2" y1="344.34" y2="245.76" stroke="#eca232" stroke-width="0.85"/><line x1="329.9" x2="332.5" y1="344.34" y2="344.34" stroke="#eca232" stroke-width="1"/><line x1="329.9" x2="332.5" y1="245.76" y2="245.76" stroke="#eca232" stroke-width="1"/><line x1="353.5" x2="353.5" y1="344.34" y2="272.6" stroke="#eca232" stroke-width="0.85"/><line x1="352.2" x2="354.8" y1="344.34" y2="344.34" stroke="#eca232" stroke-width="1"/><line x1="352.2" x2="354.8" y1="272.6" y2="272.6" stroke="#eca232" stroke-width="1"/><line x1="372.5" x2="372.5" y1="346.78" y2="317.5" stroke="#eca232" stroke-width="0.85"/><line x1="371.2" x2="373.8" y1="346.78" y2="346.78" stroke="#eca232" stroke-width="1"/><line x1="371.2" x2="373.8" y1="317.5" y2="317.5" stroke="#eca232" stroke-width="1"/><line x1="427.5" x2="427.5" y1="348.24" y2="319.94" stroke="#eca232" stroke-width="0.85"/><line x1="426.2" x2="428.8" y1="348.24" y2="348.24" stroke="#eca232" stroke-width="1"/><line x1="426.2" x2="428.8" y1="319.94" y2="319.94" stroke="#eca232" stroke-width="1"/><line x1="452" x2="452" y1="346.78" y2="329.7" stroke="#eca232" stroke-width="0.85"/><line x1="450.7" x2="453.3" y1="346.78" y2="346.78" stroke="#eca232" stroke-width="1"/><line x1="450.7" x2="453.3" y1="329.7" y2="329.7" stroke="#eca232" stroke-width="1"/><line x1="470.5" x2="470.5" y1="346.78" y2="324.82" stroke="#eca232" stroke-width="0.85"/><line x1="469.2" x2="471.8" y1="346.78" y2="346.78" stroke="#eca232" stroke-width="1"/><line x1="469.2" x2="471.8" y1="324.82" y2="324.82" stroke="#eca232" stroke-width="1"/><line x1="507" x2="507" y1="341.41" y2="305.3" stroke="#eca232" stroke-width="0.85"/><line x1="505.7" x2="508.3" y1="341.41" y2="341.41" stroke="#eca232" stroke-width="1"/><line x1="505.7" x2="508.3" y1="305.3" y2="305.3" stroke="#eca232" stroke-width="1"/><polyline points="331.2,313.6 353.5,310.67 372.5,328.72 427.5,332.14 452,332.92 470.5,330.92 507,329.21" fill="none" stroke="#22497a" stroke-width="1.35" stroke-linejoin="round"/><circle cx="331.2" cy="313.6" r="1.5" fill="#22497a"/><circle cx="353.5" cy="310.67" r="1.5" fill="#22497a"/><circle cx="372.5" cy="328.72" r="1.5" fill="#22497a"/><circle cx="427.5" cy="332.14" r="1.5" fill="#22497a"/><circle cx="452" cy="332.92" r="1.5" fill="#22497a"/><circle cx="470.5" cy="330.92" r="1.5" fill="#22497a"/><circle cx="507" cy="329.21" r="1.5" fill="#22497a"/><polyline points="331.2,306.52 353.5,303.59 372.5,335.07 427.5,336.19 452,331.65 470.5,338.58 507,329.21" fill="none" stroke="#353d45" stroke-width="1.35" stroke-linejoin="round"/><circle cx="331.2" cy="306.52" r="1.5" fill="#353d45"/><circle cx="353.5" cy="303.59" r="1.5" fill="#353d45"/><circle cx="372.5" cy="335.07" r="1.5" fill="#353d45"/><circle cx="427.5" cy="336.19" r="1.5" fill="#353d45"/><circle cx="452" cy="331.65" r="1.5" fill="#353d45"/><circle cx="470.5" cy="338.58" r="1.5" fill="#353d45"/><circle cx="507" cy="329.21" r="1.5" fill="#353d45"/><polyline points="331.2,324.82 353.5,317.7 372.5,337.22 427.5,337.61 452,335.56 470.5,336.53 507,336.19" fill="none" stroke="#bd1e3c" stroke-width="1.35" stroke-linejoin="round"/><circle cx="331.2" cy="324.82" r="1.5" fill="#bd1e3c"/><circle cx="353.5" cy="317.7" r="1.5" fill="#bd1e3c"/><circle cx="372.5" cy="337.22" r="1.5" fill="#bd1e3c"/><circle cx="427.5" cy="337.61" r="1.5" fill="#bd1e3c"/><circle cx="452" cy="335.56" r="1.5" fill="#bd1e3c"/><circle cx="470.5" cy="336.53" r="1.5" fill="#bd1e3c"/><circle cx="507" cy="336.19" r="1.5" fill="#bd1e3c"/><polyline points="331.2,309.89 353.5,325.8 372.5,334.19 427.5,340.58 452,335.56 470.5,334.09 507,329.21" fill="none" stroke="#eca232" stroke-width="1.35" stroke-linejoin="round"/><circle cx="331.2" cy="309.89" r="1.5" fill="#eca232"/><circle cx="353.5" cy="325.8" r="1.5" fill="#eca232"/><circle cx="372.5" cy="334.19" r="1.5" fill="#eca232"/><circle cx="427.5" cy="340.58" r="1.5" fill="#eca232"/><circle cx="452" cy="335.56" r="1.5" fill="#eca232"/><circle cx="470.5" cy="334.09" r="1.5" fill="#eca232"/><circle cx="507" cy="329.21" r="1.5" fill="#eca232"/><line x1="329.6" x2="329.6" y1="229.3" y2="354.9" stroke="#1a1a1a" stroke-width="1.3"/><line x1="326.2" x2="512" y1="354.3" y2="354.3" stroke="#1a1a1a" stroke-width="1.3"/><line x1="326.3" x2="329.6" y1="353.5" y2="353.5" stroke="#1a1a1a" stroke-width="1.1"/><text x="322.2" y="356.7" font-size="9" fill="#222" class="t" text-anchor="end">0</text><line x1="326.3" x2="329.6" y1="329.26" y2="329.26" stroke="#1a1a1a" stroke-width="1.1"/><text x="322.2" y="332.46" font-size="9" fill="#222" class="t" text-anchor="end">50</text><line x1="326.3" x2="329.6" y1="305.02" y2="305.02" stroke="#1a1a1a" stroke-width="1.1"/><text x="322.2" y="308.22" font-size="9" fill="#222" class="t" text-anchor="end">100</text><line x1="326.3" x2="329.6" y1="280.78" y2="280.78" stroke="#1a1a1a" stroke-width="1.1"/><text x="322.2" y="283.98" font-size="9" fill="#222" class="t" text-anchor="end">150</text><line x1="326.3" x2="329.6" y1="256.54" y2="256.54" stroke="#1a1a1a" stroke-width="1.1"/><text x="322.2" y="259.74" font-size="9" fill="#222" class="t" text-anchor="end">200</text><line x1="326.3" x2="329.6" y1="232.3" y2="232.3" stroke="#1a1a1a" stroke-width="1.1"/><text x="322.2" y="235.5" font-size="9" fill="#222" class="t" text-anchor="end">250</text><line x1="331.2" x2="331.2" y1="354.3" y2="357.3" stroke="#1a1a1a" stroke-width="1.1"/><text x="331.2" y="369.2" font-size="9" fill="#222" class="t" text-anchor="middle">1</text><line x1="353.5" x2="353.5" y1="354.3" y2="357.3" stroke="#1a1a1a" stroke-width="1.1"/><text x="353.5" y="369.2" font-size="9" fill="#222" class="t" text-anchor="middle">4</text><line x1="372.5" x2="372.5" y1="354.3" y2="357.3" stroke="#1a1a1a" stroke-width="1.1"/><text x="372.5" y="369.2" font-size="9" fill="#222" class="t" text-anchor="middle">7</text><line x1="427.5" x2="427.5" y1="354.3" y2="357.3" stroke="#1a1a1a" stroke-width="1.1"/><text x="427.5" y="369.2" font-size="9" fill="#222" class="t" text-anchor="middle">16</text><line x1="452" x2="452" y1="354.3" y2="357.3" stroke="#1a1a1a" stroke-width="1.1"/><text x="452" y="369.2" font-size="9" fill="#222" class="t" text-anchor="middle">20</text><line x1="470.5" x2="470.5" y1="354.3" y2="357.3" stroke="#1a1a1a" stroke-width="1.1"/><text x="470.5" y="369.2" font-size="9" fill="#222" class="t" text-anchor="middle">23</text><line x1="507" x2="507" y1="354.3" y2="357.3" stroke="#1a1a1a" stroke-width="1.1"/><text x="507" y="369.2" font-size="9" fill="#222" class="t" text-anchor="middle">29</text><text x="420.5" y="383.9" font-size="10.2" fill="#222" class="ax" text-anchor="middle" textLength="54.6" lengthAdjust="spacingAndGlyphs">Cycle (pre-dose)</text><text transform="translate(300.8,291.8) rotate(-90)" font-size="10.3" fill="#222" class="ax" text-anchor="middle" textLength="84.6" lengthAdjust="spacingAndGlyphs">Absolute counts (cells/µL)</text><text x="343.3" y="229.5" font-size="8.6" fill="#222" class="t" text-anchor="middle">Ibr</text><text x="392.3" y="229.5" font-size="8.6" fill="#222" class="t" text-anchor="middle">I+V</text><text x="472" y="229.6" font-size="8.2" fill="#222" class="t" text-anchor="middle">Randomized Tx</text><text x="421" y="217.1" font-size="10" fill="#222" class="t" text-anchor="middle">γδ T cells</text><text x="281.6" y="216.6" font-size="12.8" font-weight="bold" fill="#000">D</text></g>
<rect x="175.9" y="404.9" width="14.3" height="7.4" fill="#e2e2e7"/>
<rect x="177.8" y="407.9" width="1.9" height="1.9" fill="#b8b8c4"/>
<rect x="180.9" y="407.9" width="1.9" height="1.9" fill="#b8b8c4"/>
<rect x="184.0" y="407.9" width="1.9" height="1.9" fill="#b8b8c4"/>
<rect x="187.1" y="407.9" width="1.9" height="1.9" fill="#b8b8c4"/>
<text x="193.8" y="412.1" font-size="8.1" fill="#333" class="tl">Healthy Donors (<tspan font-style="italic">n</tspan> = 20): median and IQR</text>
<line x1="177.3" x2="188.8" y1="422.6" y2="422.6" stroke="#353d45" stroke-width="1.4"/>
<circle cx="183.1" cy="422.6" r="1.8" fill="#353d45"/>
<text x="193.8" y="425.7" font-size="8.1" fill="#333" class="tl" textLength="129.4" lengthAdjust="spacing">Confirmed uMRD; Placebo (<tspan font-style="italic">n</tspan> = 20)</text>
<line x1="177.3" x2="188.8" y1="436" y2="436" stroke="#eca232" stroke-width="1.4"/>
<circle cx="183.1" cy="436" r="1.8" fill="#eca232"/>
<text x="193.8" y="439.1" font-size="8.1" fill="#333" class="tl" textLength="109.2" lengthAdjust="spacing">Confirmed uMRD; Ibr (<tspan font-style="italic">n</tspan> = 20)</text>
<line x1="177.3" x2="188.8" y1="449.2" y2="449.2" stroke="#bd1e3c" stroke-width="1.4"/>
<circle cx="183.1" cy="449.2" r="1.8" fill="#bd1e3c"/>
<text x="193.8" y="452.3" font-size="8.1" fill="#333" class="tl" textLength="124.4" lengthAdjust="spacing">uMRD Not Confirmed; Ibr (<tspan font-style="italic">n</tspan> = 20)</text>
<line x1="177.3" x2="188.8" y1="462.5" y2="462.5" stroke="#22497a" stroke-width="1.4"/>
<circle cx="183.1" cy="462.5" r="1.8" fill="#22497a"/>
<text x="193.8" y="465.6" font-size="8.1" fill="#333" class="tl" textLength="127.8" lengthAdjust="spacing">uMRD Not Confirmed; I+V (<tspan font-style="italic">n</tspan> = 19)</text>
<rect x="0.5" y="0.5" width="519" height="474" fill="none" stroke="#444" stroke-width="1"/>
</svg></body></html>
